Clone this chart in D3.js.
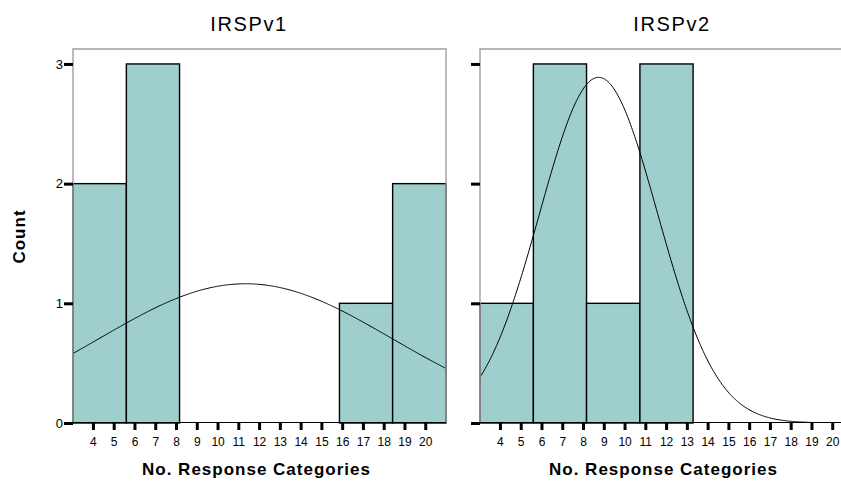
<!DOCTYPE html>
<html>
<head>
<meta charset="utf-8">
<script src="https://cdn.jsdelivr.net/npm/d3@7"></script>
<style>
  body { margin: 0; background: #fff; }
  text { font-family: "Liberation Sans", Arial, sans-serif; fill: #000; }
</style>
</head>
<body>
<svg id="chart" width="841" height="481"></svg>
<script>
// histogram bins (shared by both panels)
const binEdges = [3.04, 5.61, 8.17, 10.74, 13.30, 15.87, 18.43, 21.0];
const panelTitles = ["IRSPv1", "IRSPv2"];
const countsV1 = [2, 3, 0, 0, 0, 1, 2];
const countsV2 = [1, 3, 1, 3, 0, 0, 0];
// fitted normal curve parameters
const fitMean = [11.35, 8.75];
const fitSd = [7.05, 2.84];
const xTicks = [4, 5, 6, 7, 8, 9, 10, 11, 12, 13, 14, 15, 16, 17, 18, 19, 20];
const yTicks = [0, 1, 2, 3];

const svg = d3.select("#chart");

// layout
var plotTop = 49, plotBottom = 423, panelW = 373;
var panelX = [73, 480];
var titleX = [249, 672];
var fill = "#9ecfcc";

var yScale = d3.scaleLinear().domain([0, 3.125]).range([plotBottom, plotTop]);

var allCounts = [countsV1, countsV2];

allCounts.forEach(function (counts, p) {
  var x0 = panelX[p];
  var xScale = d3.scaleLinear().domain([binEdges[0], binEdges[binEdges.length - 1]]).range([x0, x0 + panelW]);
  var g = svg.append("g");

  g.append("clipPath").attr("id", "clip" + p)
    .append("rect").attr("x", x0).attr("y", plotTop).attr("width", panelW).attr("height", plotBottom - plotTop);

  // bars
  var bins = counts.map(function (c, i) { return { c: c, a: binEdges[i], b: binEdges[i + 1] }; })
    .filter(function (d) { return d.c > 0; });
  g.selectAll("rect.bar").data(bins).enter().append("rect")
    .attr("class", "bar")
    .attr("x", function (d) { return xScale(d.a); })
    .attr("y", function (d) { return yScale(d.c); })
    .attr("width", function (d) { return xScale(d.b) - xScale(d.a); })
    .attr("height", function (d) { return yScale(0) - yScale(d.c); })
    .attr("fill", fill)
    .attr("stroke", "#000")
    .attr("stroke-width", 1.4);

  // normal curve scaled to counts
  var n = d3.sum(counts), bw = binEdges[1] - binEdges[0];
  var mu = fitMean[p], sd = fitSd[p];
  var pts = d3.range(binEdges[0], binEdges[binEdges.length - 1] + 0.01, 0.05).map(function (v) {
    return [v, n * bw * Math.exp(-(v - mu) * (v - mu) / (2 * sd * sd)) / (sd * Math.sqrt(2 * Math.PI))];
  });
  g.append("path")
    .attr("clip-path", "url(#clip" + p + ")")
    .attr("d", d3.line().x(function (d) { return xScale(d[0]); }).y(function (d) { return yScale(d[1]); })(pts))
    .attr("fill", "none")
    .attr("stroke", "#000")
    .attr("stroke-width", 1);

  // frame (grey) on top, left and right
  g.append("path")
    .attr("d", "M" + x0 + "," + plotBottom + "V" + plotTop + "H" + (x0 + panelW) + "V" + plotBottom)
    .attr("fill", "none")
    .attr("stroke", "#a0a0a0")
    .attr("stroke-width", 1.4);

  // baseline
  g.append("line")
    .attr("x1", x0).attr("x2", x0 + panelW)
    .attr("y1", plotBottom - 0.5).attr("y2", plotBottom - 0.5)
    .attr("stroke", "#000").attr("stroke-width", 1);

  // y axis
  var yAxis = d3.axisLeft(yScale).tickValues(yTicks).tickSize(9).tickPadding(1)
    .tickFormat(p === 0 ? d3.format("d") : "");
  var ya = g.append("g").attr("transform", "translate(" + x0 + ",0)").call(yAxis);
  ya.select(".domain").remove();
  ya.selectAll("line").attr("stroke", "#000").attr("stroke-width", 3);
  ya.selectAll("text").style("font-size", "13px").attr("font-family", null);

  // x axis
  var xAxis = d3.axisBottom(xScale).tickValues(xTicks).tickSize(7).tickPadding(7.7).tickFormat(d3.format("d"));
  var xa = g.append("g").attr("transform", "translate(0," + plotBottom + ")").call(xAxis);
  xa.select(".domain").remove();
  xa.selectAll("line").attr("stroke", "#000").attr("stroke-width", 3);
  xa.selectAll("text").style("font-size", "12px").attr("font-family", null);

  // panel title
  g.append("text")
    .attr("x", titleX[p]).attr("y", 30.7)
    .attr("text-anchor", "middle")
    .style("font-size", "20px")
    .style("letter-spacing", "1.6px")
    .text(panelTitles[p]);

  // x axis title
  g.append("text")
    .attr("x", x0 + panelW / 2 - 3).attr("y", 475)
    .attr("text-anchor", "middle")
    .style("font-size", "17px")
    .style("font-weight", "bold")
    .style("letter-spacing", "1px")
    .text("No. Response Categories");
});

// y axis title
svg.append("text")
  .attr("transform", "translate(25,236.5) rotate(-90)")
  .attr("text-anchor", "middle")
  .style("font-size", "17px")
  .style("font-weight", "bold")
  .style("letter-spacing", "1px")
  .text("Count");
</script>
</body>
</html>
